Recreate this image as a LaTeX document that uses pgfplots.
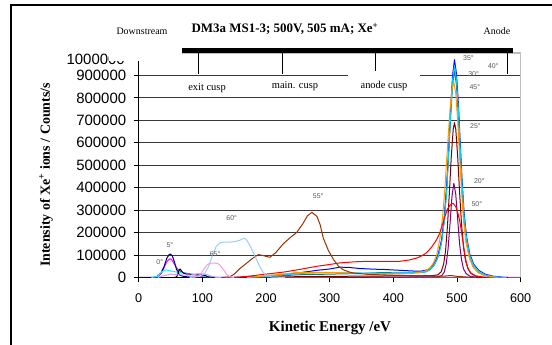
\documentclass[border=0pt]{standalone}
\usepackage{pgfplots}
\pgfplotsset{compat=1.18}
\usepackage{fontspec}
\setmainfont{Liberation Serif}
\newfontfamily\arial{Liberation Sans}
\definecolor{cNavy}{HTML}{000080}
\definecolor{cMag}{HTML}{FF00FF}
\definecolor{cCyan}{HTML}{00FFFF}
\definecolor{cPurple}{HTML}{800080}
\definecolor{cMaroon}{HTML}{800000}
\definecolor{cTeal}{HTML}{008080}
\definecolor{cBlue}{HTML}{0000FF}
\definecolor{cSky}{HTML}{00CCFF}
\definecolor{cOrange}{HTML}{FF9900}
\definecolor{cRed}{HTML}{FF0000}
\definecolor{cBrown}{HTML}{993300}
\definecolor{cPale}{HTML}{99CCFF}
\definecolor{cRose}{HTML}{FF99CC}
\definecolor{cLav}{HTML}{CC99FF}
\definecolor{cLbl}{HTML}{595959}
\begin{document}
\begin{tikzpicture}
\useasboundingbox (0,0) rectangle (552bp,345bp);
\begin{axis}[
  at={(138.7bp,67.5bp)}, anchor=south west,
  scale only axis, width=382bp, height=224.5bp,
  xmin=0, xmax=600, ymin=0, ymax=1000000,
  axis lines*=left, axis line style={black, line width=0.8bp, -},
  xtick={0,100,200,300,400,500,600},
  ytick={0,100000,200000,300000,400000,500000,600000,700000,800000,900000},
  tick align=outside, major tick length=5bp, tick style={black, line width=0.8bp},
  ymajorgrids, grid style={black!78, line width=0.8bp},
  scaled y ticks=false,
  /pgf/number format/assume math mode=true,
  yticklabel style={/pgf/number format/fixed, /pgf/number format/1000 sep={}, font=\arial\fontsize{15}{16}\selectfont, xshift=-4bp},
  xticklabel style={font=\arial\fontsize{12.7}{14}\selectfont, yshift=-8bp},
  every axis plot/.append style={line width=1bp, line join=round},
  clip=false,
]
% 0 deg magenta
\addplot[cMag] coordinates {(20,0) (30,3000) (36,20000) (40,45000) (44,70000) (48,82000) (50,83000) (53,75000) (57,55000) (61,38000) (65,28000) (70,22000) (78,17000) (86,12000) (95,8000) (105,3000) (115,0) (600,0)};
% 5 deg navy
\addplot[cNavy] coordinates {(0,0) (20,0) (28,2000) (35,20000) (40,50000) (44,85000) (48,103000) (50,104000) (53,95000) (56,70000) (59,40000) (62,20000) (65,10000) (70,5000) (80,2000) (100,0)};
% 10 deg cyan
\addplot[cCyan] coordinates {(20,0) (30,5000) (36,25000) (42,34000) (46,33000) (52,28000) (58,25000) (65,22000) (75,18000) (85,14000) (95,10000) (105,5000) (120,1000) (140,0)};
% 15 deg black
\addplot[black] coordinates {(55,0) (59,2000) (61,10000) (63,30000) (65,38000) (67,30000) (70,20000) (75,15000) (85,14000) (95,13000) (100,12000) (105,8000) (110,2000) (120,0)};
% lavender
\addplot[cLav] coordinates {(30,0) (40,8000) (50,15000) (60,12000) (80,10000) (95,17000) (105,15000) (115,5000) (125,0)};
% 20 deg purple
\addplot[cPurple] coordinates {(300,0) (470,3000) (476,8000) (480,25000) (483,60000) (486,130000) (489,240000) (492,360000) (495,420000) (498,370000) (501,260000) (504,150000) (507,80000) (510,40000) (514,18000) (520,6000) (530,1000) (540,0)};
% 25 deg maroon
\addplot[cMaroon] coordinates {(150,0) (200,2000) (300,5000) (400,7000) (460,8000) (470,12000) (475,25000) (479,60000) (482,120000) (485,230000) (488,380000) (491,540000) (494,660000) (496,690000) (498,660000) (501,540000) (504,380000) (507,240000) (510,140000) (513,80000) (517,40000) (522,18000) (530,6000) (540,1000) (550,0)};
% 30 deg teal
\addplot[cTeal] coordinates {(180,0) (250,12000) (300,15000) (350,18000) (380,22000) (420,20000) (440,22000) (450,25000) (458,35000) (464,55000) (470,90000) (475,150000) (479,240000) (483,380000) (487,560000) (490,720000) (493,860000) (496,920000) (499,860000) (502,720000) (505,540000) (508,380000) (511,250000) (515,150000) (520,85000) (526,45000) (534,22000) (544,9000) (556,3000) (570,0)};
% 35 deg blue
\addplot[cBlue] coordinates {(150,0) (200,5000) (250,20000) (280,32000) (300,38000) (316,46000) (330,45000) (347,40000) (370,37000) (384,36000) (410,32000) (437,28000) (445,29000) (452,33000) (456,38000) (461,52000) (466,72000) (471,110000) (476,170000) (480,260000) (484,410000) (487,580000) (490,750000) (493,900000) (496,970000) (499,910000) (502,780000) (505,600000) (508,430000) (511,290000) (515,180000) (520,105000) (526,60000) (534,32000) (544,15000) (556,6000) (570,1500) (580,0)};
% 40 deg sky
\addplot[cSky] coordinates {(170,0) (200,5000) (250,18000) (300,22000) (350,20000) (400,18000) (440,22000) (450,24000) (456,32000) (461,46000) (466,66000) (471,100000) (476,160000) (480,250000) (484,395000) (487,565000) (490,730000) (493,880000) (496,945000) (499,885000) (502,755000) (505,575000) (508,410000) (511,275000) (515,170000) (520,98000) (526,55000) (534,28000) (544,12000) (556,4000) (570,1000) (578,0)};
% 45 deg orange
\addplot[cOrange] coordinates {(170,0) (200,8000) (250,22000) (300,23000) (350,18000) (400,16000) (430,18000) (445,25000) (452,31000) (458,45000) (463,65000) (468,100000) (473,170000) (477,260000) (481,400000) (485,580000) (489,750000) (492,840000) (495,870000) (498,820000) (501,700000) (504,540000) (507,390000) (510,260000) (514,160000) (519,90000) (525,48000) (533,22000) (543,9000) (555,3000) (565,0)};
% 50 deg red
\addplot[cRed] coordinates {(150,0) (170,5000) (200,15000) (230,25000) (253,36000) (280,50000) (300,58000) (316,65000) (340,70000) (358,72000) (380,72000) (410,72000) (425,78000) (437,87000) (445,97000) (452,110000) (460,135000) (468,169000) (473,199000) (477,235000) (481,272000) (485,305000) (489,322000) (492,329000) (494,330000) (498,315000) (502,280000) (505,240000) (508,185000) (511,125000) (514,75000) (517,42000) (521,22000) (528,8000) (540,2000) (550,0)};
% 55 deg brown
\addplot[cBrown] coordinates {(130,0) (143,3000) (150,15000) (159,40000) (170,65000) (180,88000) (188,102000) (195,98000) (206,90000) (215,110000) (227,150000) (238,178000) (248,200000) (258,240000) (265,275000) (272,290000) (280,272000) (285,235000) (290,175000) (298,120000) (306,80000) (314,50000) (321,35000) (330,25000) (337,20000) (360,14000) (400,10000) (450,7000) (480,6000) (490,9000) (497,6000) (510,3000) (530,0)};
% 60 deg pale blue
\addplot[cPale] coordinates {(80,0) (95,5000) (104,20000) (110,50000) (116,100000) (122,140000) (128,155000) (135,158000) (142,157000) (150,160000) (158,165000) (163,172000) (166,175000) (170,165000) (176,135000) (180,110000) (185,80000) (190,50000) (195,25000) (200,8000) (210,2000) (230,0)};
% 65 deg rose
\addplot[cRose] coordinates {(85,0) (92,5000) (97,15000) (102,35000) (107,55000) (112,64000) (118,64000) (124,63000) (128,55000) (133,35000) (138,15000) (143,3000) (150,0)};
% angle labels
\begin{scope}[every node/.style={font=\arial\fontsize{7}{8}\selectfont, text=cLbl, inner sep=0pt}]
\node at (axis cs:518,979000) {35°};
\node at (axis cs:526,908000) {30°};
\node at (axis cs:557,940000) {40°};
\node at (axis cs:528,850000) {45°};
\node at (axis cs:529,676000) {25°};
\node at (axis cs:535,431000) {20°};
\node at (axis cs:531,326000) {50°};
\node at (axis cs:282,361000) {55°};
\node at (axis cs:146,265000) {60°};
\node at (axis cs:120,102000) {65°};
\node at (axis cs:49,143000) {5°};
\node at (axis cs:33,68000) {0°};
\end{scope}
% gray top/right border
\draw[black!25, line width=1.5bp] (rel axis cs:0,1) -- (rel axis cs:1,1) -- (rel axis cs:1,0);
\end{axis}
\begin{scope}[shift={(0,345bp)}, x=1bp, y=-1bp]
 \draw[line width=1.2bp] (11,346) -- (11,5) -- (553,5);
 \node[font=\arial\fontsize{15}{16}\selectfont, anchor=east, inner sep=0pt] at (125,59) {1000000};
 \fill[white] (109,36) rectangle (181.7,61);
 \fill[black] (181.7,48) rectangle (513,53);
 \foreach \xx in {198.3,282.3,375.7,507.7} \draw[line width=1.3bp] (\xx,53) -- (\xx,74);
 \fill[white] (348,71) rectangle (420,96);
 \node[font=\fontsize{10.5}{12}\selectfont] at (207,88) {exit cusp};
 \node[font=\fontsize{10.5}{12}\selectfont] at (295,86.5) {main. cusp};
 \node[font=\fontsize{10.5}{12}\selectfont] at (384,85.5) {anode cusp};
 \node[font=\bfseries\fontsize{13}{14}\selectfont] at (285,29) {DM3a MS1-3; 500V, 505 mA; Xe\textsuperscript{+}};
 \node[font=\fontsize{10}{12}\selectfont] at (142,31.5) {Downstream};
 \node[font=\fontsize{10}{12}\selectfont] at (497,31) {Anode};
 \node[font=\bfseries\fontsize{15}{16}\selectfont] at (330,328) {Kinetic Energy /eV};
 \node[font=\bfseries\fontsize{14}{16}\selectfont, rotate=90] at (46,175) {Intensity of Xe\textsuperscript{+} ions / Counts/s};
\end{scope}
\end{tikzpicture}
\end{document}
